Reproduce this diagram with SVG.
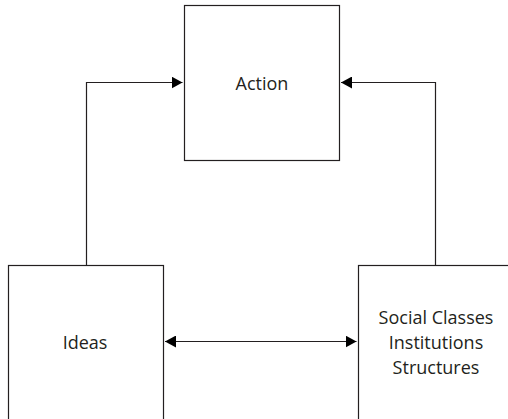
<svg xmlns="http://www.w3.org/2000/svg" width="508" height="419" viewBox="0 0 508 419">
  <style>
    .box { fill: #ffffff; stroke: #231f20; stroke-width: 1.2; }
    .conn { fill: none; stroke: #231f20; stroke-width: 1.2; }
    .label { font-family: "Open Sans", "Noto Sans", sans-serif; font-size: 18px; fill: #231f20; text-anchor: middle; }
  </style>
  <defs>
    <marker id="arrow" markerUnits="userSpaceOnUse" markerWidth="12" markerHeight="12" refX="11" refY="6" orient="auto-start-reverse">
      <path d="M0,0 L11,6 L0,12 Z" fill="#000000"/>
    </marker>
  </defs>
  <rect width="508" height="419" fill="#ffffff"/>
  <g id="action">
    <rect class="box" x="184.5" y="5.5" width="155" height="155"/>
    <text class="label" x="262" y="89.5">Action</text>
  </g>
  <g id="ideas">
    <rect class="box" x="8.5" y="265.5" width="155" height="160"/>
    <text class="label" x="85" y="349">Ideas</text>
  </g>
  <g id="social">
    <rect class="box" x="358.5" y="265.5" width="160" height="160"/>
    <text class="label" x="436" y="324">Social Classes</text>
    <text class="label" x="436" y="349">Institutions</text>
    <text class="label" x="436" y="374">Structures</text>
  </g>
  <g id="connectors">
    <path class="conn" d="M86.5,265.5 V82.5 H182.5" marker-end="url(#arrow)"/>
    <path class="conn" d="M435.5,265.5 V82.5 H341" marker-end="url(#arrow)"/>
    <path class="conn" d="M165,341.5 H356.5" marker-start="url(#arrow)" marker-end="url(#arrow)"/>
  </g>
</svg>
